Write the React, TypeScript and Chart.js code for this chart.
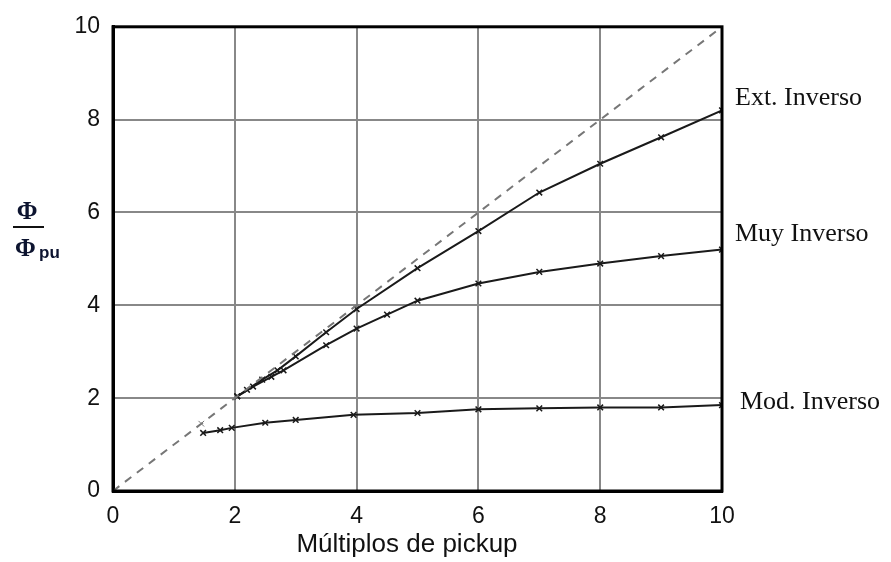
import React, { useEffect, useRef } from "react";
import { Chart, registerables } from "chart.js";

Chart.register(...registerables);

// Extremely inverse curve
const extX = [2.04, 2.2, 2.45, 2.7, 3.0, 3.5, 4.0, 5.0, 6.0, 7.0, 8.0, 9.0, 10.0];
const extY = [2.04, 2.18, 2.4, 2.6, 2.9, 3.42, 3.92, 4.8, 5.6, 6.43, 7.05, 7.62, 8.2];
// Very inverse curve
const muyX = [2.04, 2.3, 2.6, 2.8, 3.5, 4.0, 4.5, 5.0, 6.0, 7.0, 8.0, 9.0, 10.0];
const muyY = [2.04, 2.25, 2.46, 2.6, 3.14, 3.5, 3.8, 4.1, 4.47, 4.72, 4.9, 5.06, 5.2];
// Moderately inverse curve
const modX = [1.48, 1.76, 1.95, 2.5, 3.0, 3.95, 5.0, 6.0, 7.0, 8.0, 9.0, 10.0];
const modY = [1.25, 1.31, 1.36, 1.47, 1.53, 1.64, 1.68, 1.76, 1.78, 1.8, 1.8, 1.85];
// Reference diagonal (dashed)
const refX = [0, 1.45, 10];
const refY = [0, 1.45, 10];

const xTicks = [0, 2, 4, 6, 8, 10];
const yTicks = [0, 2, 4, 6, 8, 10];

const curveLabels = ["Ext. Inverso", "Muy Inverso", "Mod. Inverso"];

const toPts = (xs: number[], ys: number[]) => xs.map((x, i) => ({ x, y: ys[i] }));

const overlay = {
  id: "overlay",
  afterDraw(chart: any) {
    const ctx = chart.ctx as CanvasRenderingContext2D;
    const a = chart.chartArea;
    ctx.save();
    // frame
    ctx.strokeStyle = "#000";
    ctx.lineWidth = 3;
    ctx.strokeRect(a.left, a.top, a.right - a.left, a.bottom - a.top);

    // right-side curve labels
    ctx.fillStyle = "#111";
    ctx.font = "26px 'Liberation Serif', 'Times New Roman', serif";
    ctx.textBaseline = "middle";
    ctx.textAlign = "left";
    ctx.fillText(curveLabels[0], 735, 98);
    ctx.fillText(curveLabels[1], 735, 234);
    ctx.fillText(curveLabels[2], 740, 402);

    // x-axis title
    ctx.font = "26px 'Liberation Sans', Arial, sans-serif";
    ctx.textAlign = "center";
    ctx.fillText("Múltiplos de pickup", 407, 545);

    // y-axis title (fraction)
    ctx.fillStyle = "#0d1430";
    ctx.font = "bold 25px 'Liberation Serif', 'Times New Roman', serif";
    ctx.textAlign = "center";
    ctx.fillText("Φ", 27, 213);
    ctx.lineWidth = 2;
    ctx.strokeStyle = "#111";
    ctx.beginPath();
    ctx.moveTo(13, 227);
    ctx.lineTo(44, 227);
    ctx.stroke();
    ctx.textAlign = "left";
    ctx.fillText("Φ", 15, 250);
    ctx.font = "bold 17px 'Liberation Sans', Arial, sans-serif";
    ctx.fillText("pu", 39, 253);
    ctx.restore();
  },
};

export default function App() {
  const ref = useRef<HTMLCanvasElement | null>(null);
  useEffect(() => {
    document.body.style.margin = "0";
    const canvas = ref.current!;
    const lineDs = (label: string, xs: number[], ys: number[]) => ({
      label,
      data: toPts(xs, ys),
      borderColor: "#1a1a1a",
      backgroundColor: "#1a1a1a",
      borderWidth: 2,
      pointStyle: "crossRot",
      pointRadius: 4,
      pointBorderWidth: 1.5,
      tension: 0,
    });
    const chart = new Chart(canvas, {
      type: "line",
      data: {
        datasets: [
          {
            label: "ref",
            data: toPts(refX, refY),
            borderColor: "#777",
            backgroundColor: "#777",
            borderWidth: 2,
            borderDash: [8, 7],
            pointStyle: "crossRot",
            pointRadius: [0, 4, 0],
            pointBorderWidth: 1,
          },
          lineDs(curveLabels[0], extX, extY),
          lineDs(curveLabels[1], muyX, muyY),
          lineDs(curveLabels[2], modX, modY),
        ],
      },
      options: {
        responsive: false,
        animation: false,
        layout: { padding: { left: 0, right: 169, top: 20, bottom: 0 } },
        plugins: { legend: { display: false }, tooltip: { enabled: false } },
        scales: {
          x: {
            type: "linear",
            min: 0,
            max: 10,
            afterBuildTicks: (s: any) => {
              s.ticks = xTicks.map((v) => ({ value: v }));
            },
            afterFit: (s: any) => {
              s.height = 71;
            },
            grid: { color: "#888", lineWidth: 2, drawTicks: false },
            border: { display: true, color: "#000", width: 3 },
            ticks: {
              padding: 12,
              color: "#111",
              font: { family: "'Liberation Sans', Arial, sans-serif", size: 23 },
              maxRotation: 0,
            },
          },
          y: {
            type: "linear",
            min: 0,
            max: 10,
            afterBuildTicks: (s: any) => {
              s.ticks = yTicks.map((v) => ({ value: v }));
            },
            afterFit: (s: any) => {
              s.width = 113;
            },
            grid: { color: "#888", lineWidth: 2, drawTicks: false },
            border: { display: true, color: "#000", width: 3 },
            ticks: {
              padding: 13,
              color: "#111",
              font: { family: "'Liberation Sans', Arial, sans-serif", size: 23 },
            },
          },
        },
      },
      plugins: [overlay],
    } as any);
    return () => chart.destroy();
  }, []);
  return <canvas ref={ref} width={891} height={562} style={{ display: "block" }} />;
}
